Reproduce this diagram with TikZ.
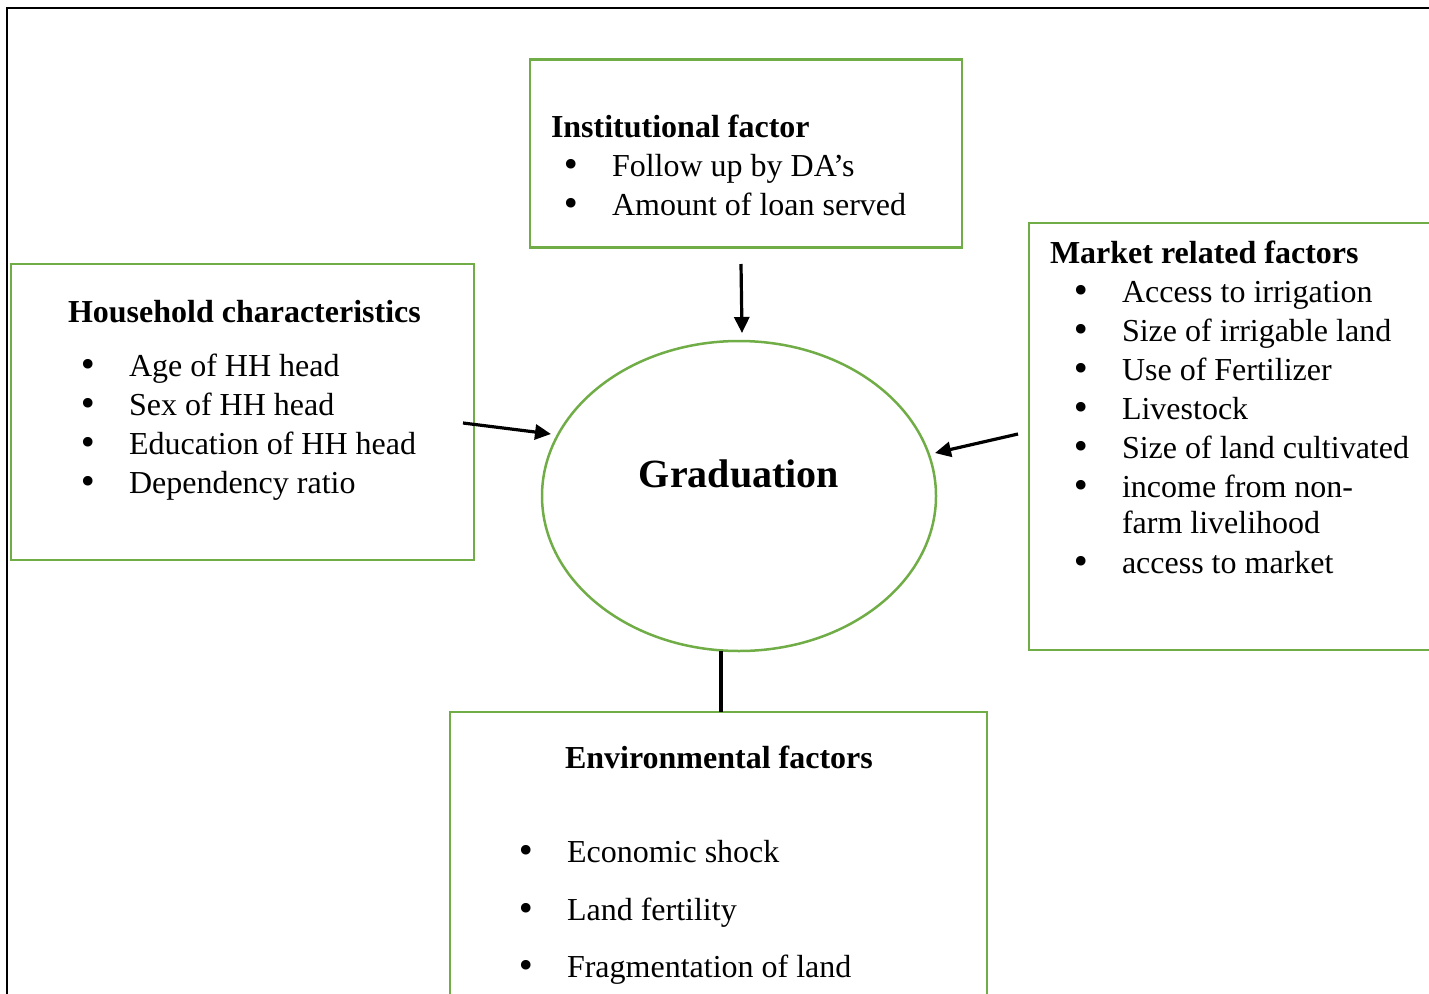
\documentclass[tikz,border=0pt]{standalone}
\usepackage{fontspec}
\setmainfont{Liberation Serif}
\newfontfamily\bulfont{DejaVu Sans}
\usetikzlibrary{shapes.geometric,arrows.meta}
\definecolor{boxgreen}{HTML}{70AD47}
\tikzset{
  x=1pt,y=-1pt,
  box/.style={draw=boxgreen, line width=2.5pt, rectangle, inner sep=0, outer sep=0},
  txt/.style={anchor=base west, inner sep=0, outer sep=0, font=\fontsize{32}{39}\selectfont},
  ttl/.style={txt, font=\fontsize{32}{39}\selectfont\bfseries},
  bul/.style={anchor=base, inner sep=0, outer sep=0, font=\bulfont\fontsize{33}{39}\selectfont},
  conn/.style={line width=3.2pt, black},
  arr/.style={conn, -{Triangle[length=16pt,width=15pt]}}
}
\newcommand{\bigbul}{•}
\begin{document}
\begin{tikzpicture}
\useasboundingbox (0,0) rectangle (1429,993);
% page frame (top and left edges visible)
\draw[line width=2.5pt] (7,1100) -- (7,8) -- (1500,8);

% boxes
\node[box, minimum width=432, minimum height=188] (inst) at (746,153.5) {};
\node[box, minimum width=463, minimum height=296] (hh) at (242.5,412) {};
\node[box, minimum width=440, minimum height=427] (mkt) at (1249,436.5) {};
\node[box, minimum width=537, minimum height=340] (env) at (718.5,882) {};
\node[draw=boxgreen, line width=2.5pt, ellipse, minimum width=394, minimum height=310, inner sep=0] (grad) at (739,496) {};

% Institutional
\node[ttl] (instT) at (551,137) {Institutional factor};
\node[bul] (instB1) at (571,176) {\bigbul};
\node[txt] (instI1) at (612,176) {Follow up by DA’s};
\node[bul] (instB2) at (571,215) {\bigbul};
\node[txt] (instI2) at (612,215) {Amount of loan served};

% Household
\node[ttl] (hhT) at (68,322) {Household characteristics};
\node[bul] (hhB1) at (88,376) {\bigbul};
\node[txt] (hhI1) at (129,376) {Age of HH head};
\node[bul] (hhB2) at (88,415) {\bigbul};
\node[txt] (hhI2) at (129,415) {Sex of HH head};
\node[bul] (hhB3) at (88,454) {\bigbul};
\node[txt] (hhI3) at (129,454) {Education of HH head};
\node[bul] (hhB4) at (88,493) {\bigbul};
\node[txt] (hhI4) at (129,493) {Dependency ratio};

% Market
\node[ttl] (mktT) at (1050,263) {Market related factors};
\node[bul] (mB1) at (1081,302) {\bigbul};
\node[txt] (mI1) at (1122,302) {Access to irrigation};
\node[bul] (mB2) at (1081,341) {\bigbul};
\node[txt] (mI2) at (1122,341) {Size of irrigable land};
\node[bul] (mB3) at (1081,380) {\bigbul};
\node[txt] (mI3) at (1122,380) {Use of Fertilizer};
\node[bul] (mB4) at (1081,419) {\bigbul};
\node[txt] (mI4) at (1122,419) {Livestock};
\node[bul] (mB5) at (1081,458) {\bigbul};
\node[txt] (mI5) at (1122,458) {Size of land cultivated};
\node[bul] (mB6) at (1081,497) {\bigbul};
\node[txt] (mI6) at (1122,497) {income from non-};
\node[txt] (mI6b) at (1122,533) {farm livelihood};
\node[bul] (mB7) at (1081,573) {\bigbul};
\node[txt] (mI7) at (1122,573) {access to market};

% Environmental
\node[ttl] (envT) at (565,768) {Environmental factors};
\node[bul] (eB1) at (526,862) {\bigbul};
\node[txt] (eI1) at (567,862) {Economic shock};
\node[bul] (eB2) at (526,920) {\bigbul};
\node[txt] (eI2) at (567,920) {Land fertility};
\node[bul] (eB3) at (526,977) {\bigbul};
\node[txt] (eI3) at (567,977) {Fragmentation of land};

% centre label
\node[anchor=base, inner sep=0, font=\fontsize{40}{48}\selectfont\bfseries] (gradT) at (739,487) {Graduation};

% connectors
\coordinate (a1s) at (741,264);
\coordinate (a1e) at (742,333);
\coordinate (a2s) at (463,423);
\coordinate (a2e) at (551,434);
\coordinate (a3s) at (1018,434);
\coordinate (a3e) at (935,453);
\coordinate (l4s) at (721,651);
\coordinate (l4e) at (721,712);
\draw[arr] (a1s) -- (a1e);
\draw[arr] (a2s) -- (a2e);
\draw[arr] (a3s) -- (a3e);
\draw[conn] (l4s) -- (l4e);
\end{tikzpicture}
\end{document}
